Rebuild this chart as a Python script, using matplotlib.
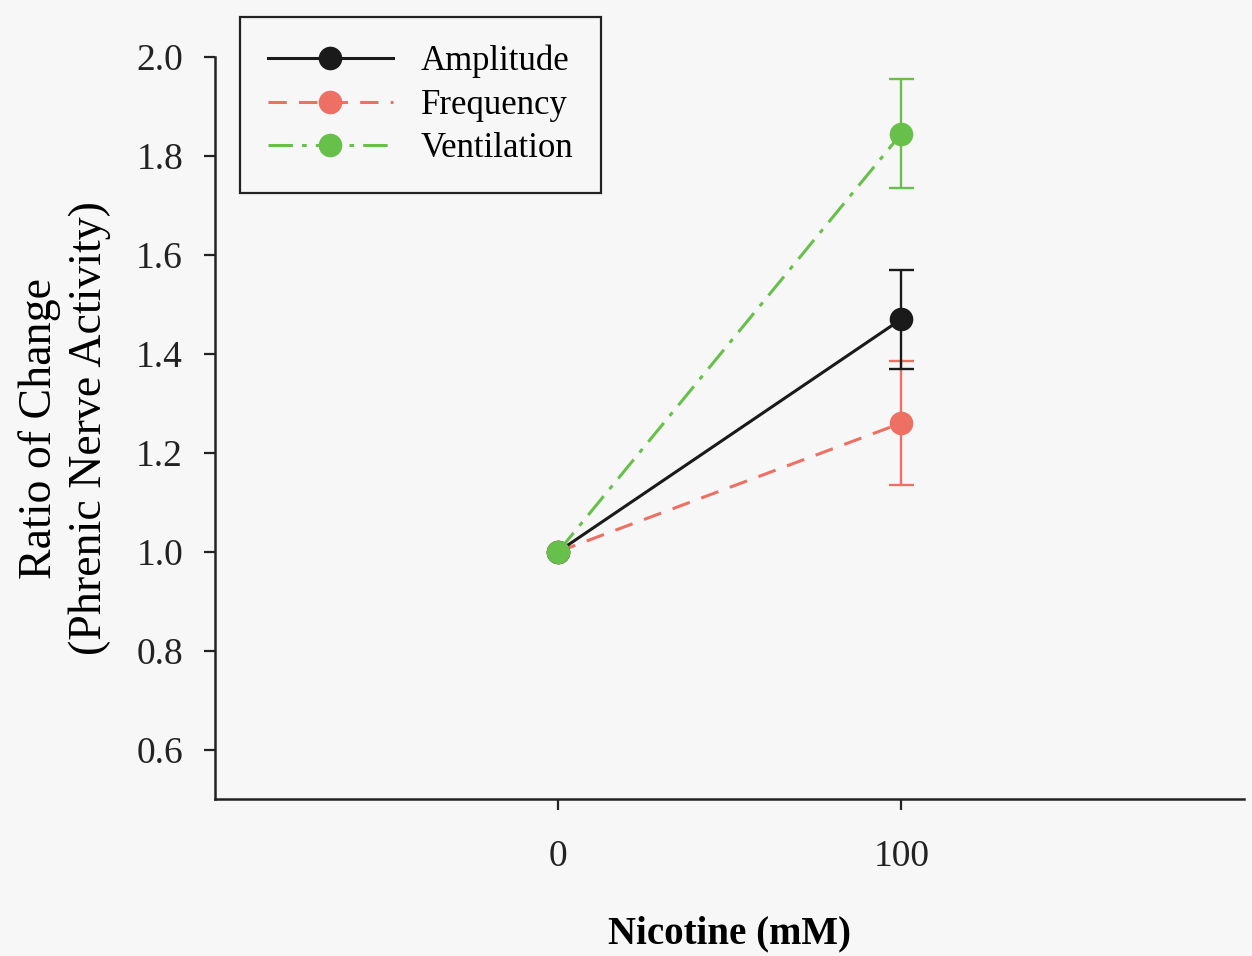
import numpy as np
import matplotlib.pyplot as plt

# ------------------------------------------------------------
# DATA: ratio of change in phrenic nerve activity vs nicotine
# ------------------------------------------------------------
dose = [0, 100]

amp_mean = [1.00, 1.47]
amp_err = [0.0, 0.10]

freq_mean = [1.00, 1.26]
freq_err = [0.0, 0.125]

vent_mean = [1.00, 1.845]
vent_err = [0.0, 0.11]

series = [
    ("Frequency", freq_mean, freq_err, "#ee6f63", (0, (6, 4))),
    ("Amplitude", amp_mean, amp_err, "#1a1a1a", "-"),
    ("Ventilation", vent_mean, vent_err, "#67c04a", (0, (8, 3, 1.5, 3))),
]
legend_order = ["Amplitude", "Frequency", "Ventilation"]

# ------------------------------------------------------------
# PLOT
# ------------------------------------------------------------
plt.rcParams["font.family"] = ["Liberation Serif", "DejaVu Serif"]

fig = plt.figure(figsize=(12.52, 9.56), dpi=100)
fig.patch.set_facecolor("#f7f7f7")
ax = fig.add_axes([0.1717, 0.1642, 0.8223, 0.7762])
ax.set_facecolor("#f7f7f7")

handles = {}
for name, mean, err, color, ls in series:
    # error bars only where there is spread
    yerr = np.array(err)
    ax.errorbar(dose[1:], mean[1:], yerr=yerr[1:], fmt="none",
                ecolor=color, elinewidth=1.7, capsize=9, capthick=1.7,
                zorder=2)
    h, = ax.plot(dose, mean, color=color, linestyle=ls, linewidth=2.2,
                 marker="o", markersize=17, markeredgewidth=0,
                 label=name, zorder=3)
    handles[name] = h

ax.set_xlim(-100, 200)
ax.set_ylim(0.5, 2.0)
ax.set_xticks(dose)
ax.set_xticklabels([str(d) for d in dose])
ax.set_yticks(np.arange(0.6, 2.01, 0.2))
ax.set_yticklabels([f"{v:.1f}" for v in np.arange(0.6, 2.01, 0.2)])

for s in ("top", "right"):
    ax.spines[s].set_visible(False)
for s in ("left", "bottom"):
    ax.spines[s].set_linewidth(1.8)
    ax.spines[s].set_color("#222222")

ax.tick_params(axis="both", direction="out", length=8, width=1.6,
               labelsize=27, colors="#222222")
ax.tick_params(axis="y", pad=15)
ax.tick_params(axis="x", pad=21)

ax.set_xlabel("Nicotine (mM)", fontsize=28, fontweight="bold",
              labelpad=30)
ax.set_ylabel("Ratio of Change\n(Phrenic Nerve Activity)", fontsize=33,
              linespacing=1.25, labelpad=18)

leg = ax.legend([handles[n] for n in legend_order], legend_order,
                loc="upper left", bbox_to_anchor=(240 / 1252, 1 - 17 / 956),
                bbox_transform=fig.transFigure, borderaxespad=0,
                fontsize=25, handlelength=3.6, numpoints=1,
                fancybox=False, framealpha=1, edgecolor="#222222",
                borderpad=0.8, labelspacing=0.3, handletextpad=0.8)
leg.get_frame().set_linewidth(1.6)
leg.get_frame().set_facecolor("#f7f7f7")

fig.savefig("out.png", dpi=100, facecolor=fig.get_facecolor())
